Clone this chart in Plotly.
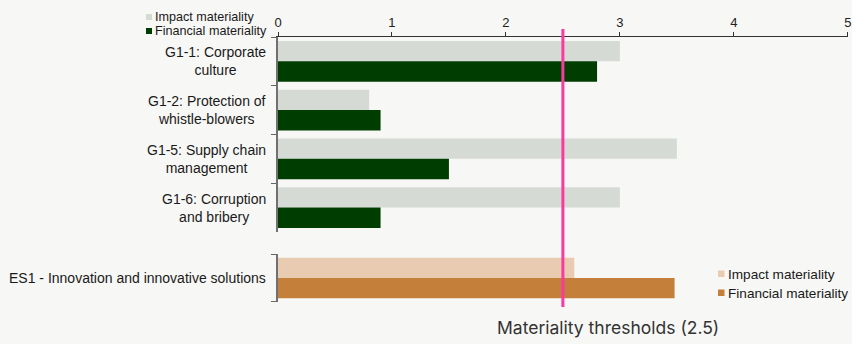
import plotly.graph_objects as go

# ---- data ----
g1_categories = ["G1-1: Corporate<br>culture", "G1-2: Protection of<br>whistle-blowers",
                 "G1-5: Supply chain<br>management", "G1-6: Corruption<br>and bribery"]
g1_impact = [3.0, 0.8, 3.5, 3.0]
g1_financial = [2.8, 0.9, 1.5, 0.9]

es_categories = ["ES1 - Innovation and innovative solutions"]
es_impact = [2.6]
es_financial = [3.48]

threshold = 2.5
x_ticks = [0, 1, 2, 3, 4, 5]
series_names = ["Impact materiality", "Financial materiality"]

# ---- styles ----
BG = "#f7f7f5"
C_IMP = "#d6dad5"
C_FIN = "#003d00"
C_IMP2 = "#e8cbb0"
C_FIN2 = "#c47f3a"
PINK = "#fb3aa0"
FAMILY = "Liberation Sans, Arial, sans-serif"
LABEL_FONT = dict(family=FAMILY, size=14, color="#1a1a1a")

fig = go.Figure()

fig.add_trace(go.Bar(y=g1_categories, x=g1_impact, orientation="h", name=series_names[0],
                     marker=dict(color=C_IMP, line=dict(width=0)), xaxis="x", yaxis="y"))
fig.add_trace(go.Bar(y=g1_categories, x=g1_financial, orientation="h", name=series_names[1],
                     marker=dict(color=C_FIN, line=dict(width=0)), xaxis="x", yaxis="y"))
fig.add_trace(go.Bar(y=es_categories, x=es_impact, orientation="h", name=series_names[0],
                     marker=dict(color=C_IMP2, line=dict(width=0)), xaxis="x2", yaxis="y2"))
fig.add_trace(go.Bar(y=es_categories, x=es_financial, orientation="h", name=series_names[1],
                     marker=dict(color=C_FIN2, line=dict(width=0)), xaxis="x2", yaxis="y2"))

# category labels as centered multi-line annotations
for cat in g1_categories:
    fig.add_annotation(text=cat, xref="paper", x=0, xanchor="right", xshift=-10,
                       yref="y", y=cat, yanchor="middle", align="center",
                       showarrow=False, font=LABEL_FONT)
for cat in es_categories:
    fig.add_annotation(text=cat, xref="paper", x=0, xanchor="right", xshift=-10,
                       yref="y2", y=cat, yanchor="middle", align="center",
                       showarrow=False, font=LABEL_FONT)

# custom compact legends (square swatch + label)
def legend_item(anchor_y, sx, sy, size, tx, ty, label, color, fsize):
    fig.add_shape(type="rect", xref="paper", yref="paper", xsizemode="pixel", ysizemode="pixel",
                  xanchor=0, yanchor=anchor_y, x0=sx, x1=sx + size, y0=sy, y1=sy + size,
                  fillcolor=color, line=dict(width=0))
    fig.add_annotation(text=label, xref="paper", yref="paper", x=0, y=anchor_y,
                       xanchor="left", yanchor="middle", xshift=tx, yshift=ty,
                       align="left", showarrow=False, borderpad=0,
                       font=dict(family=FAMILY, size=fsize, color="#1a1a1a"))

legend_item(1, -132, 17, 6, -124, 20, series_names[0], C_IMP, 12.6)
legend_item(1, -132, 3, 6, -124, 6, series_names[1], C_FIN, 12.6)
legend_item(0, 440, 25, 6.5, 449, 28, series_names[0], C_IMP2, 13.6)
legend_item(0, 440, 6, 6.5, 449, 9, series_names[1], C_FIN2, 13.6)

# threshold line
fig.add_shape(type="line", xref="x", x0=threshold, x1=threshold,
              yref="paper", y0=-0.019, y1=1.03,
              line=dict(color=PINK, width=3))
fig.add_annotation(text=f"Materiality thresholds ({threshold})", xref="paper", x=0.579,
                   yref="paper", y=-0.098, xanchor="center", yanchor="middle",
                   showarrow=False, font=dict(family="Inter, sans-serif", size=17.5, color="#333333"))

fig.update_layout(
    width=852, height=344,
    margin=dict(l=278, r=1, t=37, b=42),
    paper_bgcolor=BG, plot_bgcolor=BG,
    showlegend=False,
    barmode="group", bargap=0.16, bargroupgap=0,
    font=dict(family=FAMILY, size=13, color="#1a1a1a"),
    xaxis=dict(range=[0, 5.002], side="top", anchor="y", tickvals=x_ticks, ticks="outside",
               ticklen=4, tickcolor="#333", showline=True, linecolor="#333", linewidth=1,
               showgrid=False, zeroline=False, ticklabeloverflow="allow",
               tickfont=dict(family=FAMILY, size=13, color="#222")),
    xaxis2=dict(range=[0, 5.002], anchor="y2", matches="x", visible=False, showgrid=False),
    yaxis=dict(domain=[0.2642, 1], type="category", autorange="reversed",
               categoryorder="array", categoryarray=g1_categories,
               tickson="boundaries", ticks="outside", ticklen=5, tickcolor="#666",
               showticklabels=False, showline=True, linecolor="#707070", linewidth=1.5,
               showgrid=False, anchor="x"),
    yaxis2=dict(domain=[0, 0.1811], type="category", autorange="reversed",
                tickson="boundaries",
                ticks="outside", ticklen=5, tickcolor="#666", showticklabels=False,
                showline=True, linecolor="#707070", linewidth=1.5, showgrid=False, anchor="x2"),
)

fig.write_html("out.html")
